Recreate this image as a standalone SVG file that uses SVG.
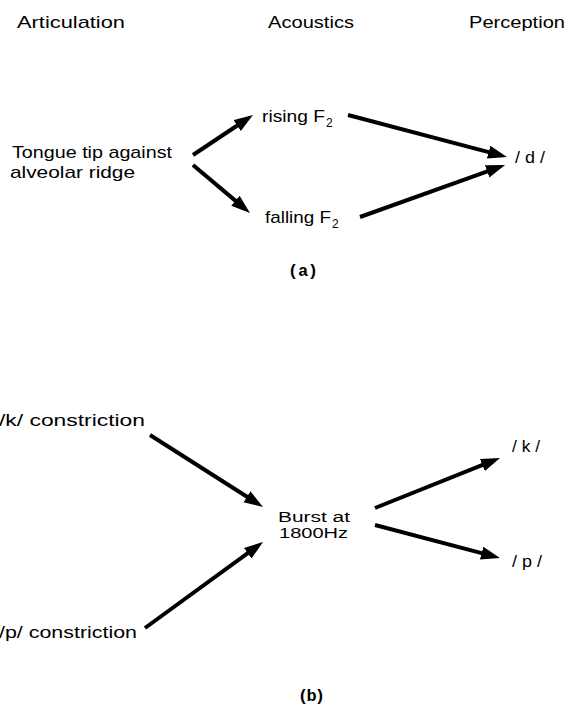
<svg xmlns="http://www.w3.org/2000/svg" width="569" height="706" viewBox="0 0 569 706">
<defs>
<marker id="ah" markerUnits="userSpaceOnUse" markerWidth="20" markerHeight="14" viewBox="0 -7 20 14" refX="1" refY="0" orient="auto">
<path d="M0,-6.5 L19,0 L0,6.5 z" fill="#000"/>
</marker>
<style>
text{font-family:"Liberation Sans","DejaVu Sans",sans-serif;font-size:17px;fill:#000;}
.hd{font-size:17px;}
.lab{font-family:"Liberation Mono","DejaVu Sans Mono",monospace;font-size:17px;font-weight:bold;}
.sub{font-size:12px;}
.sm{font-size:14px;}
.arr{stroke:#000;stroke-width:4;fill:none;marker-end:url(#ah);}
</style>
</defs>
<rect width="569" height="706" fill="#fff"/>
<g id="headers">
<text class="hd" x="17" y="28" textLength="108" lengthAdjust="spacingAndGlyphs">Articulation</text>
<text class="hd" x="268" y="28" textLength="86" lengthAdjust="spacingAndGlyphs">Acoustics</text>
<text class="hd" x="469" y="28" textLength="96" lengthAdjust="spacingAndGlyphs">Perception</text>
</g>
<g id="tongue">
<text x="12" y="158" textLength="160" lengthAdjust="spacingAndGlyphs">Tongue tip against</text>
<text x="10" y="178" textLength="125" lengthAdjust="spacingAndGlyphs">alveolar ridge</text>
</g>
<g id="rising">
<text x="262" y="122" textLength="63" lengthAdjust="spacingAndGlyphs">rising F</text>
<text class="sub" x="326" y="127">2</text>
</g>
<g id="falling">
<text x="265" y="223" textLength="66" lengthAdjust="spacingAndGlyphs">falling F</text>
<text class="sub" x="332" y="228">2</text>
</g>
<g id="d">
<text x="515" y="163" textLength="30" lengthAdjust="spacingAndGlyphs">/ d /</text>
</g>
<g id="label-a">
<text class="lab" x="288" y="276" textLength="30">(a)</text>
</g>
<g id="k-constriction">
<text x="-1" y="426" textLength="146" lengthAdjust="spacingAndGlyphs">/k/ constriction</text>
</g>
<g id="p-constriction">
<text x="-1" y="638" textLength="138" lengthAdjust="spacingAndGlyphs">/p/ constriction</text>
</g>
<g id="burst">
<text class="sm" x="278" y="522" textLength="72" lengthAdjust="spacingAndGlyphs">Burst at</text>
<text class="sm" x="279" y="538" textLength="69" lengthAdjust="spacingAndGlyphs">1800Hz</text>
</g>
<g id="k">
<text x="512" y="452" textLength="28" lengthAdjust="spacingAndGlyphs">/ k /</text>
</g>
<g id="p">
<text x="512" y="567" textLength="30" lengthAdjust="spacingAndGlyphs">/ p /</text>
</g>
<g id="label-b">
<text class="lab" x="298" y="701" textLength="27">(b)</text>
</g>
<g id="connectors">
<line class="arr" x1="193" y1="155" x2="238" y2="125"/>
<line class="arr" x1="193" y1="165" x2="236.2" y2="201.4"/>
<line class="arr" x1="348" y1="115" x2="489.6" y2="152.4"/>
<line class="arr" x1="360" y1="217" x2="488.1" y2="171.1"/>
<line class="arr" x1="150" y1="435" x2="247.8" y2="497.3"/>
<line class="arr" x1="145" y1="628" x2="248.5" y2="552.6"/>
<line class="arr" x1="375" y1="508" x2="483.3" y2="464.7"/>
<line class="arr" x1="375" y1="525" x2="482.6" y2="553.4"/>
</g>
</svg>
